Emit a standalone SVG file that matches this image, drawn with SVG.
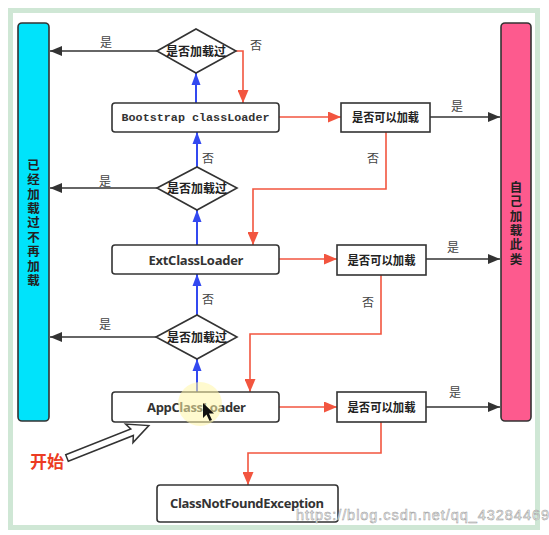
<svg xmlns="http://www.w3.org/2000/svg" width="549" height="535" viewBox="0 0 549 535">
<style>
.box{fill:#fff;stroke:#333;stroke-width:1.6}
.dia{fill:#fff;stroke:#333;stroke-width:1.6}
.cjk{font-family:"Noto Sans CJK SC","Noto Sans",sans-serif;font-weight:bold;fill:#222}
.vert{writing-mode:vertical-rl;letter-spacing:1.9px}
.lbl{font-family:"Noto Sans CJK SC","Noto Sans",sans-serif;font-size:12px;fill:#444}
.sans{font-family:"Open Sans","Liberation Sans",sans-serif;font-weight:bold;font-size:13px;fill:#333}
.mono{font-family:"Liberation Mono","DejaVu Sans Mono",monospace;font-weight:bold;font-size:11.7px;fill:#333}
.blk{fill:none;stroke:#333;stroke-width:1.6}
.blu{fill:none;stroke:#3349f0;stroke-width:2}
.red{fill:none;stroke:#f2553f;stroke-width:1.6}
</style>
<defs>
<marker id="ab" markerUnits="userSpaceOnUse" markerWidth="12" markerHeight="10" refX="12" refY="5" orient="auto"><path d="M0,0 L12,5 L0,10 z" fill="#333"/></marker>
<marker id="au" markerUnits="userSpaceOnUse" markerWidth="12" markerHeight="10" refX="12" refY="5" orient="auto"><path d="M0,0.5 L12,5 L0,9.5 z" fill="#3349f0"/></marker>
<marker id="ar" markerUnits="userSpaceOnUse" markerWidth="13" markerHeight="11" refX="13" refY="5.5" orient="auto"><path d="M0,0 L13,5.5 L0,11 z" fill="#f2553f"/></marker>
</defs>
<rect x="0" y="0" width="549" height="535" fill="#fff"/>
<rect x="10.5" y="10.5" width="527" height="517" fill="#fff" stroke="#cfe7d5" stroke-width="5"/>

<g id="bar-loaded">
<rect x="18" y="23" width="31" height="398" rx="4" fill="#00e3fb" stroke="#333" stroke-width="1.6"/>
<text class="cjk vert" font-size="12.5" x="33.5" y="158.75">已经加载过不再加载</text>
</g>
<g id="bar-self">
<rect x="501" y="23" width="30" height="398" rx="4" fill="#fd5a8e" stroke="#333" stroke-width="1.6"/>
<text class="cjk vert" font-size="12.5" x="516" y="180.75">自己加载此类</text>
</g>

<g id="connectors">
<path class="blk" d="M157,51 H50" marker-end="url(#ab)"/>
<path class="blk" d="M157,188 H50" marker-end="url(#ab)"/>
<path class="blk" d="M156,337 H50" marker-end="url(#ab)"/>
<path class="blk" d="M430,117 H500" marker-end="url(#ab)"/>
<path class="blk" d="M426,259 H500" marker-end="url(#ab)"/>
<path class="blk" d="M426,407 H500" marker-end="url(#ab)"/>
<path class="blu" d="M196,103 V73" marker-end="url(#au)"/>
<path class="blu" d="M197,167 V132" marker-end="url(#au)"/>
<path class="blu" d="M197,245 V210" marker-end="url(#au)"/>
<path class="blu" d="M197,315 V274" marker-end="url(#au)"/>
<path class="blu" d="M197,392 V359" marker-end="url(#au)"/>
<path class="red" d="M236,51 H243 V103" marker-end="url(#ar)"/>
<path class="red" d="M279,117 H341" marker-end="url(#ar)"/>
<path class="red" d="M386,132 V189 H253 V245" marker-end="url(#ar)"/>
<path class="red" d="M279,259 H337" marker-end="url(#ar)"/>
<path class="red" d="M381,275 V334 H250 V392" marker-end="url(#ar)"/>
<path class="red" d="M279,407 H337" marker-end="url(#ar)"/>
<path class="red" d="M381,422 V453 H248 V485" marker-end="url(#ar)"/>
<text class="lbl" x="106" y="47" text-anchor="middle">是</text>
<text class="lbl" x="105" y="186" text-anchor="middle">是</text>
<text class="lbl" x="105" y="329" text-anchor="middle">是</text>
<text class="lbl" x="457" y="111" text-anchor="middle">是</text>
<text class="lbl" x="453" y="252" text-anchor="middle">是</text>
<text class="lbl" x="455" y="397" text-anchor="middle">是</text>
<text class="lbl" x="256" y="50" text-anchor="middle">否</text>
<text class="lbl" x="373" y="163" text-anchor="middle">否</text>
<text class="lbl" x="368" y="307" text-anchor="middle">否</text>
<text class="lbl" x="208" y="163" text-anchor="middle">否</text>
<text class="lbl" x="208" y="304" text-anchor="middle">否</text>
</g>

<g id="d1">
<polygon class="dia" points="157,51 196,29 236,51 196,73"/>
<text class="cjk" font-size="12" x="196" y="55.5" text-anchor="middle">是否加载过</text>
</g>
<g id="d2">
<polygon class="dia" points="157,188 197,167 237,188 197,210"/>
<text class="cjk" font-size="12" x="197" y="192.5" text-anchor="middle">是否加载过</text>
</g>
<g id="d3">
<polygon class="dia" points="156,337 197,315 237,337 197,359"/>
<text class="cjk" font-size="12" x="197" y="341.5" text-anchor="middle">是否加载过</text>
</g>

<g id="bootstrap">
<rect class="box" x="112" y="103" width="167" height="29" rx="3"/>
<text class="mono" x="195.5" y="121" text-anchor="middle" textLength="148" lengthAdjust="spacingAndGlyphs">Bootstrap classLoader</text>
</g>
<g id="ext">
<rect class="box" x="112" y="245" width="167" height="29" rx="3"/>
<text class="sans" x="196" y="264.5" text-anchor="middle" textLength="95" lengthAdjust="spacing">ExtClassLoader</text>
</g>
<g id="app">
<rect class="box" x="112" y="392" width="167" height="30" rx="3"/>
<text class="sans" x="196.5" y="411.5" text-anchor="middle" textLength="99" lengthAdjust="spacing">AppClassLoader</text>
</g>
<g id="cnf">
<rect class="box" x="157" y="485" width="181" height="37" rx="3"/>
<text class="sans" x="247" y="507.5" text-anchor="middle" textLength="154" lengthAdjust="spacing">ClassNotFoundException</text>
</g>

<g id="can1">
<rect class="box" x="341" y="103" width="89" height="29"/>
<text class="cjk" font-size="12" x="385.5" y="121.5" text-anchor="middle" textLength="67" lengthAdjust="spacingAndGlyphs">是否可以加载</text>
</g>
<g id="can2">
<rect class="box" x="337" y="245" width="89" height="30"/>
<text class="cjk" font-size="12" x="381.5" y="264.5" text-anchor="middle" textLength="68" lengthAdjust="spacingAndGlyphs">是否可以加载</text>
</g>
<g id="can3">
<rect class="box" x="337" y="392" width="89" height="30"/>
<text class="cjk" font-size="12" x="381.5" y="411.5" text-anchor="middle" textLength="68" lengthAdjust="spacingAndGlyphs">是否可以加载</text>
</g>

<g id="start">
<text x="47" y="468" text-anchor="middle" font-family="'Noto Sans CJK SC','Noto Sans',sans-serif" font-weight="bold" font-size="17" fill="#ec3b22">开始</text>
<polygon points="0,-3.5 70,-3.5 67,-10 88,0 67,10 70,3.5 0,3.5" fill="#fff" stroke="#333" stroke-width="1.5" transform="translate(67,458) rotate(-21.6)"/>
</g>

<g id="cursor">
<circle cx="200" cy="404" r="22" fill="#fff6a8" opacity="0.55"/>
<polygon points="203,403 203,418 206.5,414.5 209.5,421 212,420 209,413.5 214,413.5" fill="#111"/>
</g>

<text x="296" y="520" font-family="'Liberation Sans',Arial,sans-serif" font-size="14.5" fill="#f4f4f4" stroke="#9a9a9a" stroke-width="0.5" textLength="253" lengthAdjust="spacing">https://blog.csdn.net/qq_43284469</text>
</svg>
